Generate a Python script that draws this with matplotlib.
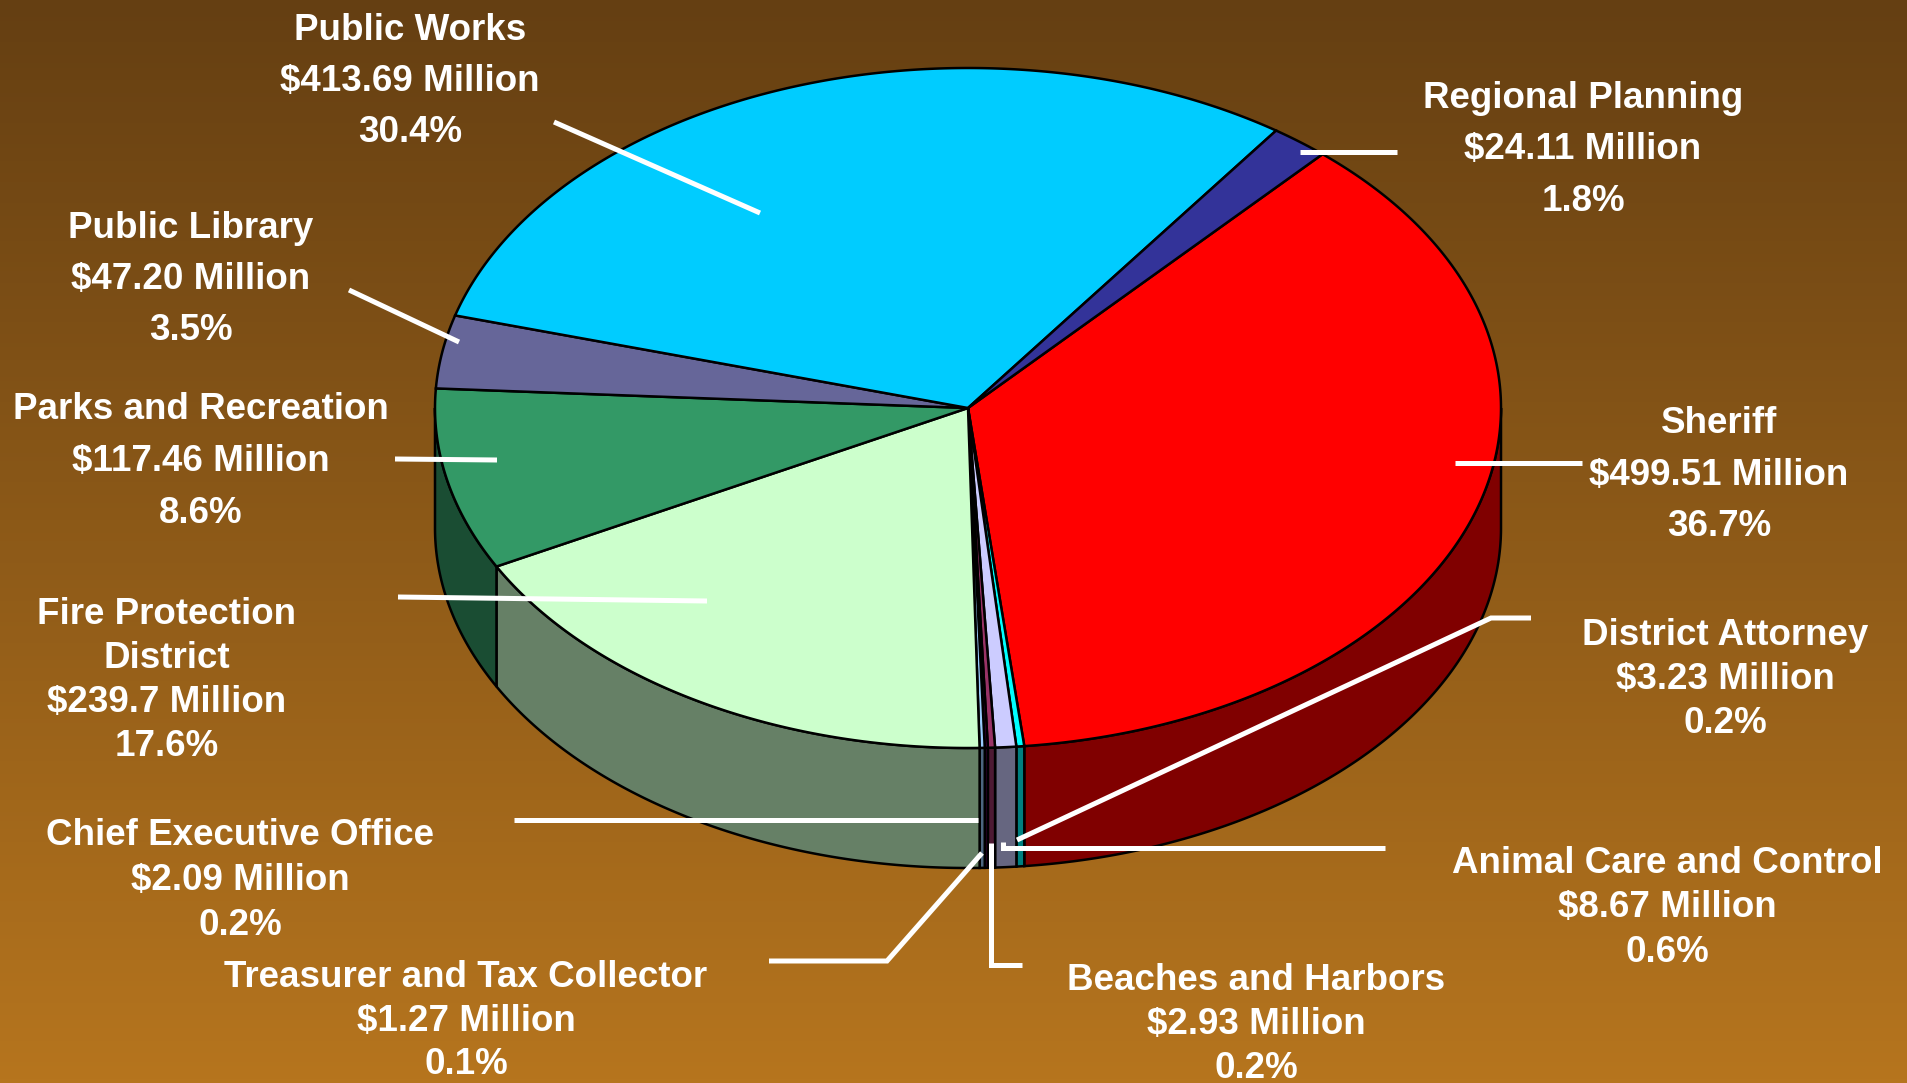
import numpy as np
import matplotlib
matplotlib.use('Agg')
import matplotlib.pyplot as plt
from matplotlib.patches import Polygon
from matplotlib.colors import to_rgb

# budget by department, in pie order (clockwise from Sheriff)
departments = ['Sheriff', 'District Attorney', 'Animal Care and Control',
               'Beaches and Harbors', 'Treasurer and Tax Collector',
               'Chief Executive Office', 'Fire Protection\nDistrict',
               'Parks and Recreation', 'Public Library', 'Public Works',
               'Regional Planning']
amounts = [499.51, 3.23, 8.67, 2.93, 1.27, 2.09, 239.7, 117.46, 47.20, 413.69, 24.11]
amount_labels = ['$499.51', '$3.23', '$8.67', '$2.93', '$1.27', '$2.09',
                 '$239.7', '$117.46', '$47.20', '$413.69', '$24.11']
percents = ['36.7%', '0.2%', '0.6%', '0.2%', '0.1%', '0.2%',
            '17.6%', '8.6%', '3.5%', '30.4%', '1.8%']
colors = ['#FF0000', '#00FFFF', '#CCCCFF', '#993366', '#660066', '#99CCFF',
          '#CCFFCC', '#339966', '#666699', '#00CCFF', '#333399']

# label placement: x centre, y of first line, line step
label_pos = [(1719, 420, 51.5), (1725, 632, 44), (1667, 860, 44.5),
             (1256, 977, 44), (466, 974, 43.5), (240, 832, 45),
             (167, 611, 44), (201, 406, 52), (191, 225, 51),
             (410, 27, 51), (1583, 95, 51.5)]

leaders = [[(1455, 463), (1582, 463)],
           [(1531, 618), (1491, 618), (1017, 840)],
           [(1385, 848), (1003, 848), (1003, 842)],
           [(1022, 965), (991, 965), (991, 843)],
           [(769, 961), (887, 961), (982, 853)],
           [(514, 820), (978, 820)],
           [(398, 597), (707, 601)],
           [(395, 459), (497, 460)],
           [(349, 290), (459, 342)],
           [(554, 122), (760, 213)],
           [(1300, 152), (1397, 152)]]

W, H = 1908, 1083
fig = plt.figure(figsize=(W / 100, H / 100), dpi=100)
ax = fig.add_axes([0, 0, 1, 1])
ax.set_xlim(0, W)
ax.set_ylim(H, 0)
ax.axis('off')

# background gradient
top_c = np.array([101, 63, 18]) / 255.
bot_c = np.array([182, 117, 30]) / 255.
t = np.linspace(0, 1, 256)[:, None, None]
grad = top_c * (1 - t) + bot_c * t
ax.imshow(grad, extent=[0, W, H, 0], aspect='auto', zorder=0)

cx, cy, rx, ry, depth = 968, 408, 533, 340, 120
start = 48.3
total = sum(amounts)


def arc(a1, a2):
    n = max(2, int(abs(a1 - a2) * 3))
    th = np.radians(np.linspace(a1, a2, n))
    return np.column_stack([cx + rx * np.cos(th), cy - ry * np.sin(th)])


cum = 0.0
for val, col in zip(amounts, colors):
    a1 = start - cum / total * 360
    a2 = a1 - val / total * 360
    cum += val
    side = tuple(c * 0.5 for c in to_rgb(col))
    lo, hi = max(a2, -180), min(a1, 0)
    if hi > lo:
        top_arc = arc(hi, lo)
        bot_arc = arc(lo, hi) + [0, depth]
        ax.add_patch(Polygon(np.vstack([top_arc, bot_arc]), closed=True,
                             facecolor=side, edgecolor='black', lw=1.8, zorder=2))
    pts = np.vstack([[cx, cy], arc(a1, a2)])
    ax.add_patch(Polygon(pts, closed=True, facecolor=col, edgecolor='black',
                         lw=1.8, zorder=3))

for line in leaders:
    xs, ys = zip(*line)
    ax.plot(xs, ys, color='white', lw=3.6, solid_capstyle='butt',
            solid_joinstyle='miter', zorder=4)

for name, amt, pct, (x, y, step) in zip(departments, amount_labels, percents, label_pos):
    lines = name.split('\n') + [amt + ' Million', pct]
    for k, txt in enumerate(lines):
        ax.text(x, y + k * step + 13, txt, ha='center', va='baseline',
                color='white', fontsize=26.5, fontweight='bold',
                family='Liberation Sans', zorder=5)

fig.savefig('out.png', dpi=100)
